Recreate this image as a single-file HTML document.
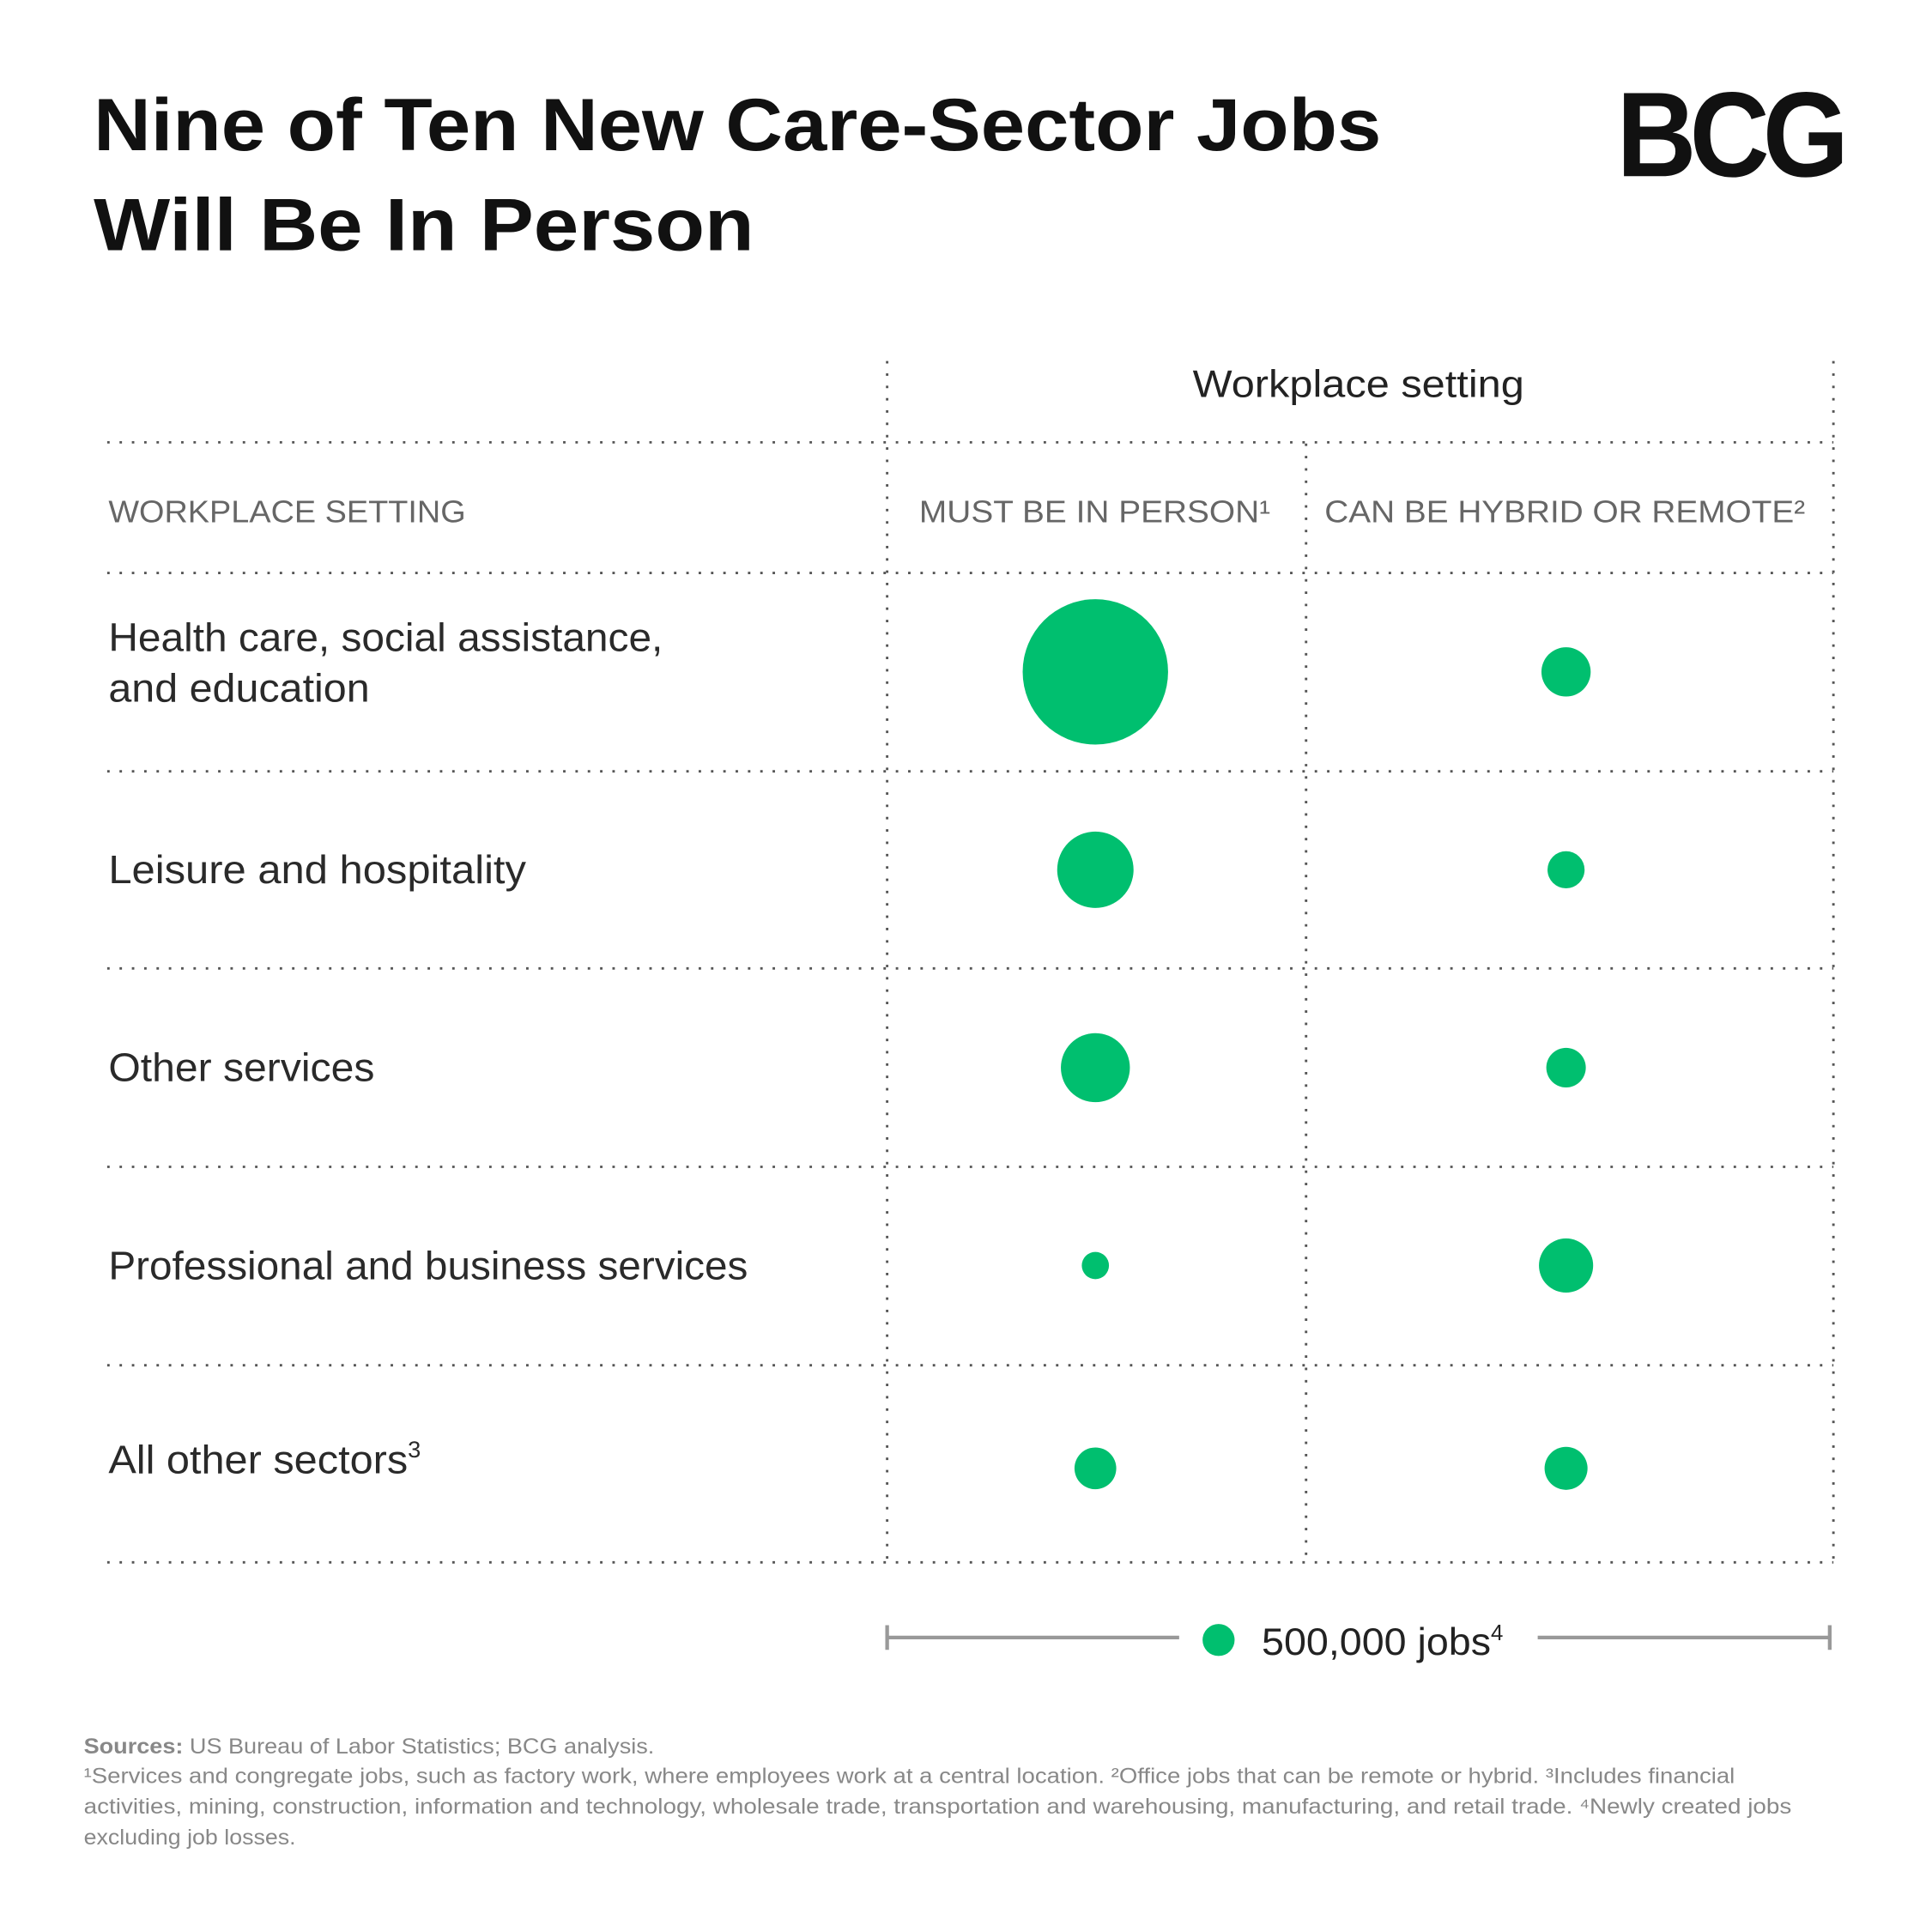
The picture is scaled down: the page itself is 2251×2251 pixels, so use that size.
<!DOCTYPE html>
<html><head><meta charset="utf-8"><style>
html,body{margin:0;padding:0;background:#fff}
svg{display:block}
text{font-family:"Liberation Sans",sans-serif}
</style></head><body>
<svg id="chart" width="2251" height="2251" viewBox="0 0 1568 1568" xmlns="http://www.w3.org/2000/svg">
<rect width="1568" height="1568" fill="#fff"/>
<g font-weight="bold" font-size="60" fill="#111">
<text x="76" y="122" textLength="1045" lengthAdjust="spacingAndGlyphs">Nine of Ten New Care-Sector Jobs</text>
<text x="76" y="203" textLength="536" lengthAdjust="spacingAndGlyphs">Will Be In Person</text>
</g>
<text x="1312" y="143" font-size="98" font-weight="bold" fill="#111" textLength="183" lengthAdjust="spacingAndGlyphs" letter-spacing="-6">BCG</text>
<g id="grid" stroke="#555" stroke-width="2" stroke-dasharray="2,8" fill="none">
<line x1="720" y1="293" x2="720" y2="1268"/>
<line x1="1060" y1="360" x2="1060" y2="1268"/>
<line x1="1488" y1="293" x2="1488" y2="1268"/>
<line x1="87" y1="359" x2="1488" y2="359"/>
<line x1="87" y1="465" x2="1488" y2="465"/>
<line x1="87" y1="626" x2="1488" y2="626"/>
<line x1="87" y1="786" x2="1488" y2="786"/>
<line x1="87" y1="947" x2="1488" y2="947"/>
<line x1="87" y1="1108" x2="1488" y2="1108"/>
<line x1="87" y1="1268" x2="1488" y2="1268"/>
</g>
<text x="968" y="322" font-size="31" fill="#222" textLength="269" lengthAdjust="spacingAndGlyphs">Workplace setting</text>
<g font-size="25" fill="#666">
<text x="88" y="424" textLength="290" lengthAdjust="spacingAndGlyphs">WORKPLACE SETTING</text>
<text x="746" y="424" textLength="285" lengthAdjust="spacingAndGlyphs">MUST BE IN PERSON¹</text>
<text x="1075" y="424" textLength="390" lengthAdjust="spacingAndGlyphs">CAN BE HYBRID OR REMOTE²</text>
</g>
<g id="labels" font-size="32" fill="#2a2a2a"></g>
<g id="bubbles" fill="#00bf6f"></g>
<g>
<g stroke="#999" stroke-width="3">
<line x1="720" y1="1329" x2="957" y2="1329"/><line x1="720" y1="1319" x2="720" y2="1339"/>
<line x1="1248" y1="1329" x2="1485" y2="1329"/><line x1="1485" y1="1319" x2="1485" y2="1339"/>
</g>
<circle id="legend-dot" cx="989" cy="1331" r="13" fill="#00bf6f"/>
<text x="1024" y="1343" font-size="31" fill="#222"><tspan textLength="186" lengthAdjust="spacingAndGlyphs">500,000 jobs</tspan><tspan font-size="18" dy="-12">4</tspan></text>
</g>
<g font-size="17.5" fill="#888">
<text x="68" y="1423" textLength="463" lengthAdjust="spacingAndGlyphs"><tspan font-weight="bold">Sources:</tspan> US Bureau of Labor Statistics; BCG analysis.</text>
<text x="68" y="1447" textLength="1340" lengthAdjust="spacingAndGlyphs">¹Services and congregate jobs, such as factory work, where employees work at a central location. ²Office jobs that can be remote or hybrid. ³Includes financial</text>
<text x="68" y="1472" textLength="1386" lengthAdjust="spacingAndGlyphs">activities, mining, construction, information and technology, wholesale trade, transportation and warehousing, manufacturing, and retail trade. ⁴Newly created jobs</text>
<text x="68" y="1497" textLength="172" lengthAdjust="spacingAndGlyphs">excluding job losses.</text>
</g>
</svg>
<script>
const categories = ["Health care, social assistance, and education","Leisure and hospitality","Other services","Professional and business services","All other sectors"];
const inPersonJobs = [10300000, 2840000, 2320000, 360000, 850000];
const hybridJobs = [1180000, 670000, 760000, 1430000, 900000];
const legendJobs = 500000;

const NS = "http://www.w3.org/2000/svg";
const rowTop = 465, rowH = 160.6;
const labelWidths = [450, 339, 216, 519, 243];
function yOf(i){ return rowTop + rowH*(i+0.5) + (i===4 ? 4 : 0); }
const colX = {inPerson: 889, hybrid: 1271};
function rOf(v){ return 13*Math.sqrt(v/legendJobs); }

const bub = document.getElementById('bubbles');
const lab = document.getElementById('labels');
categories.forEach((c,i)=>{
  const y = yOf(i);
  [["inPerson",inPersonJobs[i]],["hybrid",hybridJobs[i]]].forEach(([k,v])=>{
    const ci = document.createElementNS(NS,'circle');
    ci.setAttribute('cx',colX[k]); ci.setAttribute('cy',y); ci.setAttribute('r',rOf(v));
    
    
    bub.appendChild(ci);
  });
  const t = document.createElementNS(NS,'text');
  t.setAttribute('x',88);
  
  
  if(i===0){
    t.setAttribute('y',y-17);
    const a=document.createElementNS(NS,'tspan'); a.textContent="Health care, social assistance,";
    a.setAttribute('textLength',450); a.setAttribute('lengthAdjust','spacingAndGlyphs');
    const b=document.createElementNS(NS,'tspan'); b.setAttribute('x',88); b.setAttribute('dy',41); b.textContent="and education";
    b.setAttribute('textLength',212); b.setAttribute('lengthAdjust','spacingAndGlyphs');
    t.appendChild(a); t.appendChild(b);
  } else if(i===4){
    t.setAttribute('y',y+4);
    const a=document.createElementNS(NS,'tspan'); a.textContent=c;
    a.setAttribute('textLength',labelWidths[i]); a.setAttribute('lengthAdjust','spacingAndGlyphs');
    t.appendChild(a);
    const s=document.createElementNS(NS,'tspan'); s.setAttribute('font-size','19'); s.setAttribute('dy','-13'); s.textContent="3";
    t.appendChild(s);
  } else {
    t.setAttribute('y',y+11);
    t.setAttribute('textLength',labelWidths[i]); t.setAttribute('lengthAdjust','spacingAndGlyphs');
    t.textContent = c;
  }
  lab.appendChild(t);
});
</script>
</body></html>
